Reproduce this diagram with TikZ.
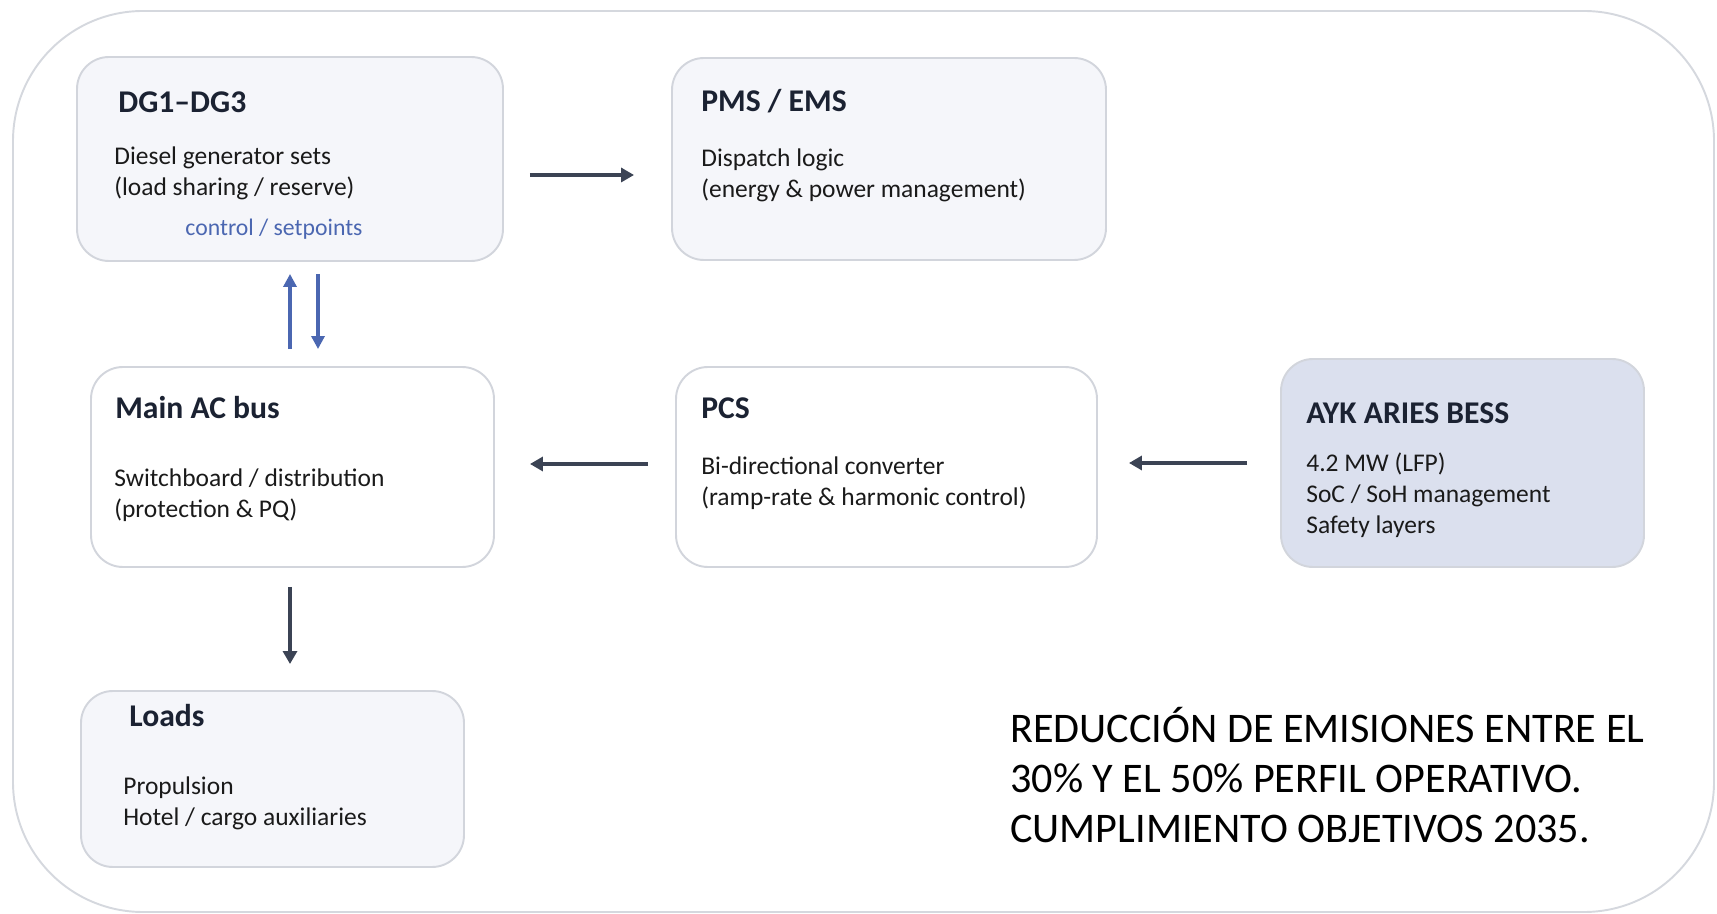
\documentclass[tikz,border=0pt]{standalone}
\usepackage{fontspec}
\setmainfont{Carlito}
\usepackage{tikz}
\usetikzlibrary{arrows.meta, positioning}
\definecolor{frameline}{HTML}{D5D8DE}
\definecolor{boxline}{HTML}{D2D5DC}
\definecolor{boxfill}{HTML}{F5F6FA}
\definecolor{bessfill}{HTML}{DBE0EE}
\definecolor{titlecol}{HTML}{1B2232}
\definecolor{bodycol}{HTML}{1A1A1A}
\definecolor{arrowcol}{HTML}{3B4354}
\definecolor{ctrlblue}{HTML}{4B67B1}
\tikzset{
  box/.style={draw=boxline, line width=1.1pt, rounded corners=6.4mm, fill=boxfill, inner sep=0pt},
  boxsize/.style 2 args={minimum width=#1*0.2mm, minimum height=#2*0.2mm},
  title/.style={anchor=west, inner sep=0pt, font=\fontsize{18}{21}\selectfont\bfseries, text=titlecol},
  body/.style={anchor=west, inner sep=0pt, align=left, font=\fontsize{14.5}{17.6}\selectfont, text=bodycol},
  flow/.style={draw=arrowcol, line width=2.2pt, -{Triangle[length=2.6mm,width=2.8mm]}},
  ctrl/.style={draw=ctrlblue, line width=2pt, -{Triangle[length=2.6mm,width=2.6mm]}},
}
\begin{document}
\begin{tikzpicture}[x=0.2mm, y=-0.2mm]
  \useasboundingbox (0,0) rectangle (1717,914);
  \draw [draw=frameline, line width=1.1pt, rounded corners=26mm] (13,11) rectangle (1714,912);
  % blocks
  \node [box, boxsize={426}{204}] (dg) at (290,159) {};
  \node [box, boxsize={434}{202}] (pms) at (889,159) {};
  \node [box, boxsize={403}{200}, fill=white] (bus) at (292.5,467) {};
  \node [box, boxsize={421}{200}, fill=white] (pcs) at (886.5,467) {};
  \node [box, boxsize={363}{208}, fill=bessfill] (bess) at (1462.5,463) {};
  \node [box, boxsize={383}{176}] (loads) at (272.5,779) {};
  % texts
  \node [title] (dgtitle) at (118,102) {DG1–DG3};
  \node [body] (dgtext) at (114,173.5) {Diesel generator sets\\(load sharing / reserve)};
  \node [body, anchor=center, text=ctrlblue, font=\fontsize{13.5}{16}\selectfont] (dgctrl) at (274,229) {control / setpoints};
  \node [title] (pmstitle) at (701,101) {PMS / EMS};
  \node [body] (pmstext) at (701,175.5) {Dispatch logic\\(energy \& power management)};
  \node [title] (bustitle) at (115,408) {Main AC bus};
  \node [body] (bustext) at (114,495) {Switchboard / distribution\\(protection \& PQ)};
  \node [title] (pcstitle) at (701,408) {PCS};
  \node [body] (pcstext) at (701,483) {Bi-directional converter\\(ramp-rate \& harmonic control)};
  \node [title] (besstitle) at (1306,413) {AYK ARIES BESS};
  \node [body] (besstext) at (1306,495) {4.2 MW (LFP)\\SoC / SoH management\\Safety layers};
  \node [title] (loadstitle) at (129,716) {Loads};
  \node [body] (loadstext) at (123,803) {Propulsion\\Hotel / cargo auxiliaries};
  \node [anchor=west, inner sep=0pt, align=left, font=\fontsize{24}{28.5}\selectfont, text=black] (goal) at (1010,775) {REDUCCIÓN DE EMISIONES ENTRE EL\\30\% Y EL 50\% PERFIL OPERATIVO.\\CUMPLIMIENTO OBJETIVOS 2035.};
  % connectors
  \draw [flow, shorten <=5.2mm, shorten >=7.4mm] ([shift={(0,16)}]dg.east) -- ([shift={(0,16)}]dg.east -| pms.west);
  \draw [flow, shorten <=6.6mm, shorten >=6.2mm] (bess.west) -- (bess.west -| pcs.east);
  \draw [flow, shorten <=5.4mm, shorten >=7mm] ([shift={(0,-3)}]pcs.west) -- ([shift={(0,-3)}]pcs.west -| bus.east);
  \draw [flow, shorten <=3.8mm, shorten >=5.2mm] (dg.south |- bus.south) -- (dg.south |- loads.north);
  \draw [ctrl, shorten <=3.4mm, shorten >=2.4mm] (dg.south |- bus.north) -- (dg.south);
  \draw [ctrl, shorten <=2.4mm, shorten >=3.4mm] ([shift={(28,0)}]dg.south) -- ([shift={(28,0)}]dg.south |- bus.north);
\end{tikzpicture}
\end{document}
